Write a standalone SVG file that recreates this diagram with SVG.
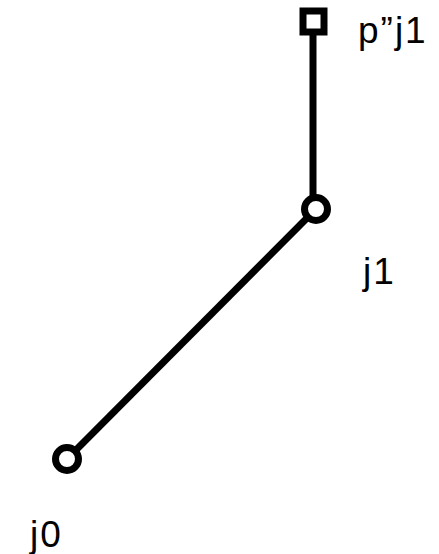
<svg xmlns="http://www.w3.org/2000/svg" width="439" height="554" viewBox="0 0 439 554">
<style>
.edge{stroke:#000;stroke-width:7;fill:none;stroke-linecap:butt}
.node{stroke:#000;stroke-width:7;fill:#fff}
.lbl{font-family:"Liberation Sans",Arial,Helvetica,sans-serif;font-size:37px;letter-spacing:2px;fill:#000}
</style>
<rect width="439" height="554" fill="#fff"/>
<g id="connectors">
<line class="edge" x1="313" y1="30" x2="313" y2="208"/>
<line class="edge" x1="316" y1="209" x2="67" y2="459"/>
</g>
<g id="j1">
<circle class="node" cx="316" cy="209" r="11.5"/>
<text class="lbl" x="363" y="284">j1</text>
</g>
<g id="j0">
<circle class="node" cx="67" cy="459" r="11.5"/>
<text class="lbl" x="30" y="547">j0</text>
</g>
<g id="pj1">
<rect class="node" x="303" y="11" width="21" height="21"/>
<text class="lbl" x="358" y="43">p”j1</text>
</g>
</svg>
